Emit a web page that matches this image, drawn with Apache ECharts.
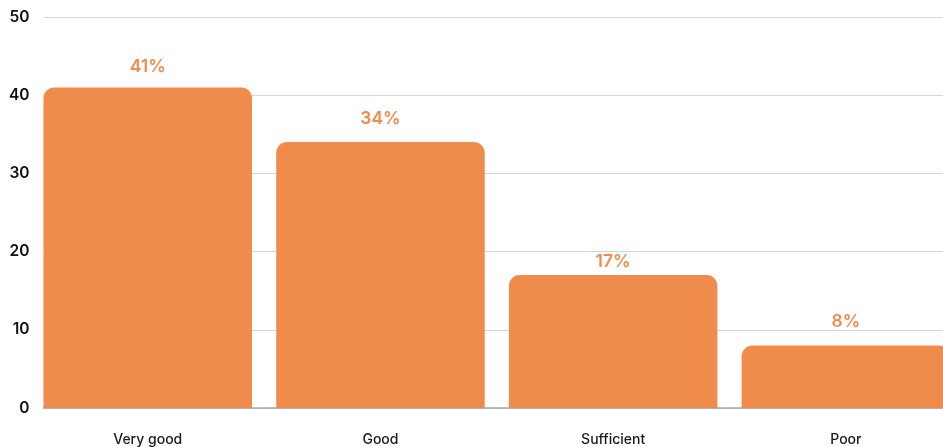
<!DOCTYPE html>
<html>
<head>
<meta charset="utf-8">
<script src="https://cdn.jsdelivr.net/npm/echarts@6/dist/echarts.min.js"></script>
<style>
  html, body { margin: 0; padding: 0; background: #ffffff; }
  #chart { width: 943px; height: 447px; }
</style>
</head>
<body>
<div id="chart"></div>
<script>
// Survey ratings and their share of responses (%)
const categories = ['Very good', 'Good', 'Sufficient', 'Poor'];
const shares = [41, 34, 17, 8];
const yTicks = { min: 0, max: 50, interval: 10 };

// Gap (px) between each bar top and its value label
const labelGaps = [11.5, 14, 4, 15];

const barColor = '#F08C4B';
const fontFamily = 'Inter, "Open Sans", sans-serif';

const chart = echarts.init(document.getElementById('chart'), null, { renderer: 'canvas' });

chart.setOption({
  animation: false,
  backgroundColor: '#ffffff',
  grid: [
    // grid holding the value axis, gridlines and baseline
    { left: 43.5, width: 960, top: 17, bottom: 39, containLabel: false, outerBoundsMode: 'none' },
    // grid holding the bars and category labels; the last band runs past the right edge
    { left: 31.4, width: 930.8, top: 17, bottom: 39, containLabel: false, outerBoundsMode: 'none' }
  ],
  xAxis: [
    {
      type: 'category',
      gridIndex: 0,
      data: categories,
      axisTick: { show: false },
      axisLabel: { show: false },
      axisLine: { show: true, lineStyle: { color: '#a8a8a8', width: 1.5 } },
      splitLine: { show: false }
    },
    {
      type: 'category',
      gridIndex: 1,
      data: categories,
      axisTick: { show: false },
      axisLine: { show: false },
      axisLabel: {
        margin: 25,
        color: '#1a1a1a',
        fontSize: 14,
        fontWeight: 500,
        fontFamily: fontFamily
      }
    }
  ],
  yAxis: [
    {
      type: 'value',
      gridIndex: 0,
      min: yTicks.min,
      max: yTicks.max,
      interval: yTicks.interval,
      axisLine: { show: false },
      axisTick: { show: false },
      axisLabel: {
        margin: 14,
        color: '#111111',
        fontSize: 15.5,
        fontWeight: 600,
        fontFamily: fontFamily
      },
      splitLine: { show: true, lineStyle: { color: '#d6d6d6', width: 1 } }
    },
    {
      type: 'value',
      gridIndex: 1,
      min: yTicks.min,
      max: yTicks.max,
      interval: yTicks.interval,
      show: false,
      splitLine: { show: false }
    }
  ],
  series: [
    {
      type: 'bar',
      xAxisIndex: 1,
      yAxisIndex: 1,
      data: shares.map((v, i) => ({ value: v, label: { distance: labelGaps[i] } })),
      barWidth: 208.5,
      itemStyle: { color: barColor, borderRadius: [11, 11, 0, 0] },
      label: {
        show: true,
        position: 'top',
        formatter: '{c}%',
        color: '#F08C4B',
        fontSize: 17.5,
        fontWeight: 600,
        fontFamily: fontFamily
      },
      z: 3
    }
  ]
});
</script>
</body>
</html>
